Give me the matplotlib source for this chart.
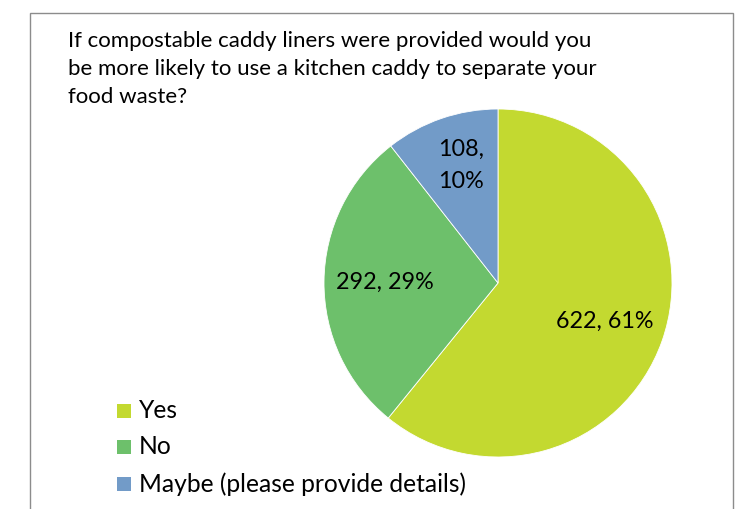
import matplotlib
matplotlib.use("Agg")
import matplotlib.pyplot as plt
from matplotlib.patches import Rectangle

categories = ["Yes", "No", "Maybe (please provide details)"]
counts = [622, 292, 108]
percent_labels = ["61%", "29%", "10%"]
colors = ["#c3d930", "#6dc06b", "#729bc8"]
title = ("If compostable caddy liners were provided would you\n"
         "be more likely to use a kitchen caddy to separate your\n"
         "food waste?")

W, H = 737, 509
fig = plt.figure(figsize=(W / 100, H / 100), dpi=100)
plt.rcParams['font.family'] = ['Lato', 'DejaVu Sans']

def fx(px):
    return px / W

def fy(py):
    return 1 - py / H

# border
fig.patches.append(Rectangle((fx(30), fy(540)), fx(733) - fx(30), fy(13) - fy(540),
                             transform=fig.transFigure, fill=False,
                             edgecolor="#8c8c8c", linewidth=1.0))

# pie axes
cx, cy, r = 498, 283, 174
ax = fig.add_axes([fx(cx - r), fy(cy + r), 2 * r / W, 2 * r / H])
wedges, texts, autotexts = ax.pie(counts, colors=colors, startangle=90, counterclock=False,
                                  autopct=lambda p: "", pctdistance=0.65,
                                  wedgeprops=dict(edgecolor="white", linewidth=0.6))
ax.set_xlim(-1, 1)
ax.set_ylim(-1, 1)
ax.set_aspect("auto")
ax.axis("off")

for i, t in enumerate(autotexts):
    sep = ",\n" if i == 2 else ", "
    t.set_text(f"{counts[i]}{sep}{percent_labels[i]}")
    t.set_fontsize(16.8)
    t.set_color("black")
    t.set_linespacing(1.65)
    if i == 2:
        x, y = t.get_position()
        t.set_position((x, y + 0.06))

fig.text(fx(68), fy(31), title, ha="left", va="top", fontsize=16, linespacing=1.5,
         color="black")

# legend
leg_y = [411, 447, 484]
for c, lab, y in zip(colors, categories, leg_y):
    fig.patches.append(Rectangle((fx(117), fy(y + 7)), fx(131) - fx(117), fy(y - 7) - fy(y + 7),
                                 transform=fig.transFigure, facecolor=c, edgecolor="none"))
    fig.text(fx(139), fy(y), lab, ha="left", va="center", fontsize=17.7, color="black")

fig.savefig("out.png", dpi=100)
